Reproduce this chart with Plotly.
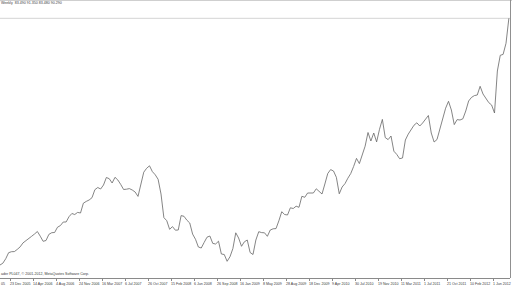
import pandas as pd
import plotly.graph_objects as go

start_date = "2005-11-04"
closes = [
    65.62, 65.80, 66.25, 66.85, 66.95, 66.96, 67.18, 67.43, 67.83, 68.02,
    68.24, 68.49, 68.72, 68.97, 68.50, 67.99, 68.07, 68.68, 68.85, 68.87,
    69.40, 69.56, 69.92, 69.92, 70.45, 70.77, 70.67, 70.88, 70.82, 71.80,
    71.98, 72.12, 72.35, 73.15, 73.37, 73.22, 73.62, 74.37, 74.25, 73.82,
    74.39, 74.12, 73.67, 73.17, 73.20, 73.26, 73.12, 72.92, 72.48, 73.77,
    74.90, 75.29, 75.54, 74.96, 74.64, 74.19, 72.72, 70.36, 70.05, 69.19,
    69.46, 69.10, 69.12, 70.56, 70.49, 70.10, 69.82, 68.71, 68.19, 67.42,
    67.32, 67.87, 68.40, 68.52, 67.78, 67.72, 68.00, 66.72, 66.67, 65.99,
    66.45, 67.26, 68.84, 68.32, 67.49, 67.94, 68.12, 66.87, 66.67, 68.12,
    68.95, 68.86, 68.84, 68.49, 69.12, 69.24, 69.26, 70.04, 70.95, 70.67,
    70.62, 71.34, 71.27, 71.50, 71.39, 72.49, 72.39, 72.82, 72.81, 72.82,
    73.24, 72.97, 72.72, 73.72, 74.77, 75.16, 75.02, 74.39, 72.74, 73.42,
    73.76, 74.30, 74.77, 75.47, 76.28, 75.76, 76.57, 77.50, 78.87, 78.02,
    78.82, 77.93, 79.19, 80.18, 78.36, 78.16, 78.52, 77.00, 76.68, 76.25,
    76.32, 78.12, 78.71, 79.14, 79.60, 79.84, 79.52, 79.82, 80.22, 80.57,
    78.82, 77.92, 78.17, 79.29, 80.34, 81.30, 81.99, 81.12, 79.66, 80.16,
    80.12, 80.24, 81.02, 82.02, 82.38, 82.56, 82.62, 83.49, 82.72, 82.28,
    81.86, 81.62, 80.82, 85.02, 86.59, 86.68, 87.79, 90.29,
]
tick_dates = [
    "2005-12-23", "2006-04-14", "2006-08-04", "2006-11-24", "2007-03-16",
    "2007-07-06", "2007-10-26", "2008-02-15", "2008-06-06", "2008-09-26",
    "2009-01-16", "2009-05-08", "2009-08-28", "2009-12-18", "2010-04-09",
    "2010-07-30", "2010-11-19", "2011-03-11", "2011-07-01", "2011-10-21",
    "2012-02-10", "2012-06-01",
]
tick_labels = [
    "23 Dec 2005", "14 Apr 2006", "4 Aug 2006", "24 Nov 2006", "16 Mar 2007",
    "6 Jul 2007", "26 Oct 2007", "15 Feb 2008", "6 Jun 2008", "26 Sep 2008",
    "16 Jan 2009", "8 May 2009", "28 Aug 2009", "18 Dec 2009", "9 Apr 2010",
    "30 Jul 2010", "19 Nov 2010", "11 Mar 2011", "1 Jul 2011", "21 Oct 2011",
    "10 Feb 2012", "1 Jun 2012",
]
first_label_tail = "05"
header_text = "Weekly  83.490 91.350 83.480 90.290"
footer_text = "ader PL047, \u00a9 2001-2012, MetaQuotes Software Corp."
last_price = 90.29
price_min, price_max = 64.32, 92.02

dates = pd.date_range(start_date, periods=len(closes), freq="14D")
x_start = pd.Timestamp(start_date)
x_end = x_start + pd.Timedelta(days=2483.5)

FONT = "Liberation Sans, Arial, sans-serif"
TXT = "#3a3a3a"
FS = 3.6

fig = go.Figure()
fig.add_trace(go.Scatter(
    x=dates, y=closes, mode="lines",
    line=dict(color="#666666", width=0.8),
    hoverinfo="skip", showlegend=False,
))

annotations = []
for d, lab in zip(tick_dates, tick_labels):
    annotations.append(dict(
        x=d, xref="x", y=-0.0199, yref="paper", text=lab, showarrow=False,
        xanchor="left", yanchor="middle", borderpad=0, borderwidth=0,
        font=dict(size=FS, color=TXT, family=FONT),
    ))
annotations.append(dict(
    x=0, xref="paper", y=-0.0199, yref="paper", text=first_label_tail,
    showarrow=False, xanchor="left", yanchor="middle", borderpad=0,
    font=dict(size=FS, color=TXT, family=FONT),
))
annotations.append(dict(
    x=0, xref="paper", y=0.9928, yref="paper", text=header_text,
    showarrow=False, xanchor="left", yanchor="middle", borderpad=0,
    font=dict(size=FS, color=TXT, family=FONT),
))
annotations.append(dict(
    x=0, xref="paper", y=0.0144, yref="paper", text=footer_text,
    showarrow=False, xanchor="left", yanchor="middle", borderpad=0,
    font=dict(size=FS, color=TXT, family=FONT),
))

shapes = [
    # last price line
    dict(type="line", xref="paper", yref="y", x0=0, x1=1, y0=last_price, y1=last_price,
         line=dict(color="#d4d4d4", width=1), layer="below"),
    # top border
    dict(type="line", xref="paper", yref="paper", x0=0, x1=1.004, y0=1.0036, y1=1.0036,
         line=dict(color="#a0a0a0", width=1)),
    # right border
    dict(type="line", xref="paper", yref="paper", x0=1.001, x1=1.001, y0=0, y1=1.0036,
         line=dict(color="#909090", width=1)),
]

fig.update_layout(
    width=512, height=288,
    margin=dict(l=0, r=2, t=1, b=10),
    paper_bgcolor="white", plot_bgcolor="white",
    annotations=annotations, shapes=shapes,
    xaxis=dict(
        type="date", range=[x_start, x_end], showgrid=False, zeroline=False,
        showline=True, linecolor="#8a8a8a", linewidth=1,
        tickvals=tick_dates, showticklabels=False,
        ticks="outside", ticklen=2, tickcolor="#8a8a8a",
    ),
    yaxis=dict(
        range=[price_min, price_max], showgrid=False, zeroline=False,
        showticklabels=False, showline=False, ticks="",
    ),
)

fig.write_html("out.html")
